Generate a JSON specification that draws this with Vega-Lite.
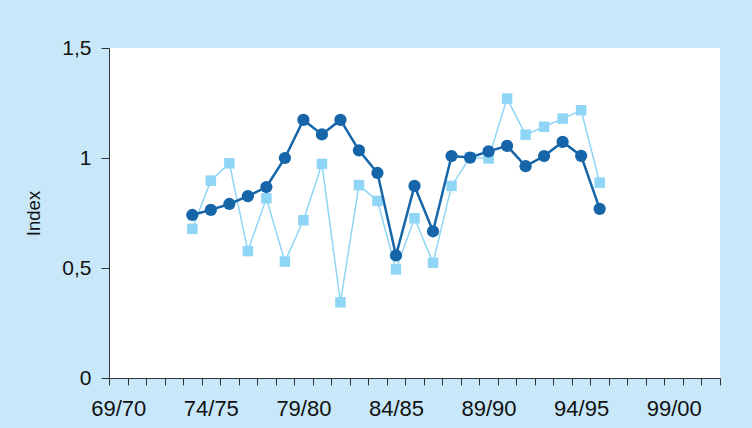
{
  "$schema": "https://vega.github.io/schema/vega-lite/v6.json",
  "width": 611,
  "height": 330,
  "autosize": {"type": "none"},
  "padding": {"left": 109, "top": 48, "right": 32, "bottom": 50},
  "background": "#c8e8fa",
  "config": {
    "view": {"fill": "white", "stroke": null},
    "font": "Liberation Sans",
    "axis": {"labelFont": "Liberation Sans", "titleFont": "Liberation Sans", "labelColor": "#111", "titleColor": "#111", "domainColor": "#333", "tickColor": "#333", "grid": false}
  },
  "data": {
    "values": [
      {"year": "73/74", "series": "A", "value": 0.741},
      {"year": "74/75", "series": "A", "value": 0.764},
      {"year": "75/76", "series": "A", "value": 0.791},
      {"year": "76/77", "series": "A", "value": 0.827},
      {"year": "77/78", "series": "A", "value": 0.868},
      {"year": "78/79", "series": "A", "value": 1.0},
      {"year": "79/80", "series": "A", "value": 1.173},
      {"year": "80/81", "series": "A", "value": 1.107},
      {"year": "81/82", "series": "A", "value": 1.173},
      {"year": "82/83", "series": "A", "value": 1.035},
      {"year": "83/84", "series": "A", "value": 0.932},
      {"year": "84/85", "series": "A", "value": 0.557},
      {"year": "85/86", "series": "A", "value": 0.873},
      {"year": "86/87", "series": "A", "value": 0.667},
      {"year": "87/88", "series": "A", "value": 1.009},
      {"year": "88/89", "series": "A", "value": 1.002},
      {"year": "89/90", "series": "A", "value": 1.03},
      {"year": "90/91", "series": "A", "value": 1.055},
      {"year": "91/92", "series": "A", "value": 0.963},
      {"year": "92/93", "series": "A", "value": 1.009},
      {"year": "93/94", "series": "A", "value": 1.073},
      {"year": "94/95", "series": "A", "value": 1.01},
      {"year": "95/96", "series": "A", "value": 0.769},
      {"year": "73/74", "series": "B", "value": 0.678},
      {"year": "74/75", "series": "B", "value": 0.897},
      {"year": "75/76", "series": "B", "value": 0.976},
      {"year": "76/77", "series": "B", "value": 0.577},
      {"year": "77/78", "series": "B", "value": 0.817},
      {"year": "78/79", "series": "B", "value": 0.529},
      {"year": "79/80", "series": "B", "value": 0.717},
      {"year": "80/81", "series": "B", "value": 0.973},
      {"year": "81/82", "series": "B", "value": 0.344},
      {"year": "82/83", "series": "B", "value": 0.877},
      {"year": "83/84", "series": "B", "value": 0.805},
      {"year": "84/85", "series": "B", "value": 0.494},
      {"year": "85/86", "series": "B", "value": 0.726},
      {"year": "86/87", "series": "B", "value": 0.524},
      {"year": "87/88", "series": "B", "value": 0.873},
      {"year": "88/89", "series": "B", "value": 1.003},
      {"year": "89/90", "series": "B", "value": 0.998},
      {"year": "90/91", "series": "B", "value": 1.27},
      {"year": "91/92", "series": "B", "value": 1.106},
      {"year": "92/93", "series": "B", "value": 1.142},
      {"year": "93/94", "series": "B", "value": 1.179},
      {"year": "94/95", "series": "B", "value": 1.217},
      {"year": "95/96", "series": "B", "value": 0.888}
    ]
  },
  "encoding": {
    "x": {
      "field": "year",
      "type": "ordinal",
      "bandPosition": 0.5,
      "scale": {
        "type": "band",
        "paddingInner": 0,
        "paddingOuter": 0,
        "domain": ["69/70","70/71","71/72","72/73","73/74","74/75","75/76","76/77","77/78","78/79","79/80","80/81","81/82","82/83","83/84","84/85","85/86","86/87","87/88","88/89","89/90","90/91","91/92","92/93","93/94","94/95","95/96","96/97","97/98","98/99","99/00","00/01","01/02"]
      },
      "axis": {
        "title": null,
        "tickBand": "extent",
        "labelAngle": 0,
        "labelFontSize": 22,
        "labelPadding": 13,
        "tickSize": 7,
        "labelExpr": "indexof(['69/70','74/75','79/80','84/85','89/90','94/95','99/00'], datum.label) >= 0 ? datum.label : ''",
        "labelOverlap": false
      }
    },
    "y": {
      "field": "value",
      "type": "quantitative",
      "scale": {"domain": [0, 1.5], "nice": false},
      "axis": {
        "title": "Index",
        "titleFontSize": 18.5,
        "titleFontWeight": "normal",
        "titlePadding": 18,
        "labelFontSize": 21,
        "labelPadding": 10,
        "tickSize": 8,
        "values": [0, 0.5, 1, 1.5],
        "labelExpr": "replace(format(datum.value, '~g'), '.', ',')"
      }
    }
  },
  "layer": [
    {
      "transform": [{"filter": "datum.series == 'B'"}],
      "mark": {"type": "line", "color": "#8fd5f6", "strokeWidth": 1.5}
    },
    {
      "transform": [{"filter": "datum.series == 'B'"}],
      "mark": {"type": "point", "shape": "square", "filled": true, "color": "#8fd5f6", "size": 110, "opacity": 1}
    },
    {
      "transform": [{"filter": "datum.series == 'A'"}],
      "mark": {"type": "line", "color": "#1565a8", "strokeWidth": 2.5}
    },
    {
      "transform": [{"filter": "datum.series == 'A'"}],
      "mark": {"type": "point", "shape": "circle", "filled": true, "color": "#1565a8", "size": 150, "opacity": 1}
    }
  ]
}
